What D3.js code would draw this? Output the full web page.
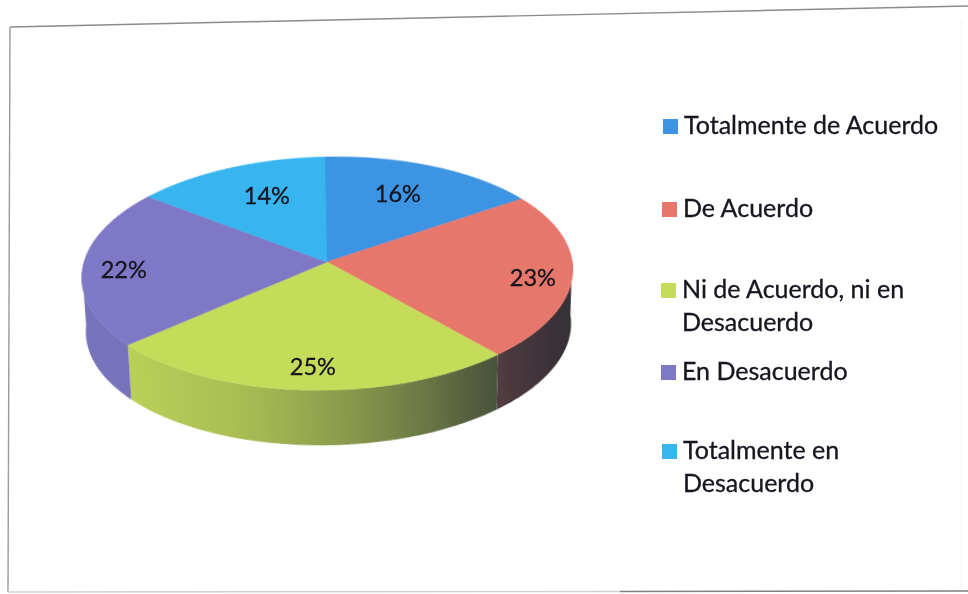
<!DOCTYPE html>
<html lang="es">
<head>
<meta charset="utf-8">
<script src="https://cdn.jsdelivr.net/npm/d3@7"></script>
<style>
html,body{margin:0;padding:0;background:#fff}
svg{display:block}
text{font-family:Lato,"Open Sans",sans-serif;fill:#14141e;stroke:#14141e;stroke-width:.3px}
</style>
</head>
<body>
<svg id="chart" width="968" height="594"></svg>
<script>
const categories = ["Totalmente de Acuerdo","De Acuerdo","Ni de Acuerdo, ni en Desacuerdo","En Desacuerdo","Totalmente en Desacuerdo"];
const values = [16,23,25,22,14];
const colors = ["#3c94e2","#e7776b","#c5dc5a","#7f78c6","#38b5ee"];
const legendLines = [["Totalmente de Acuerdo"],["De Acuerdo"],["Ni de Acuerdo, ni en","Desacuerdo"],["En Desacuerdo"],["Totalmente en","Desacuerdo"]];

// layout (not data)
const legendY = [134,217,298,380,459];
const legendX = [663,662,661,661,662];
const labelLayout = [{r:.70,dx:-5,dy:-3},{r:.84,dx:0,dy:1},{r:.83,dx:7,dy:-1},{r:.84,dx:2,dy:8},{r:.63,dx:0,dy:-6}];

const svg = d3.select("#chart");
const defs = svg.append("defs");
const soft = defs.append("filter").attr("id","soft").attr("x","-5%").attr("y","-5%").attr("width","110%").attr("height","110%");
soft.append("feGaussianBlur").attr("stdDeviation",0.5);

// scan frame
const frame = svg.append("g").attr("fill","none").attr("filter","url(#soft)");
frame.append("path").attr("d",d3.line()([[10,27],[968,6]])).attr("stroke","#8c8c8c").attr("stroke-width",1.4);
frame.append("path").attr("d",d3.line()([[10,27],[8,592]])).attr("stroke","#9a9a9a").attr("stroke-width",1.4);
frame.append("path").attr("d",d3.line()([[8,592],[620,591.5]])).attr("stroke","#d0d0d0").attr("stroke-width",1.4);
frame.append("path").attr("d",d3.line()([[620,591.5],[968,591]])).attr("stroke","#808080").attr("stroke-width",1.6);
frame.append("path").attr("d",d3.line()([[961,20],[961,590]])).attr("stroke","#f3f3f3").attr("stroke-width",1);

// perspective projection of a disc
const cx = 327, k = 0.0987;
const topDisc = {x0:cx, y0:262, A:244.3, B:115.4};
const botDisc = {x0:cx, y0:316, A:241.5, B:116.5};
function project(d,a){
  const X=Math.sin(a), Z=Math.cos(a), w=1+k*Z;
  return [d.x0+d.A*X/w, d.y0-d.B*Z/w];
}
const arcs = d3.pie().sort(null).startAngle(0).endAngle(2*Math.PI)(values);
const line = d3.line();
const samples = (a0,a1) => { const n=Math.max(2,Math.ceil((a1-a0)/0.01)); return d3.range(n+1).map(i=>a0+(a1-a0)*i/n); };

// wall shading by screen x
const shadeX = d3.scaleLinear().domain([85,130,260,400,500,570]).range([0.93,0.93,0.8,0.5,0.2,0.08]).clamp(true);
const shadeTarget = d3.rgb("#252a33");
const pieG = svg.append("g").attr("filter","url(#soft)").attr("transform",`rotate(-1.26 ${cx} 262)`);
const wallFrom = 92*Math.PI/180, wallTo = 268*Math.PI/180;
arcs.forEach((s,i)=>{
  const a0=Math.max(s.startAngle,wallFrom), a1=Math.min(s.endAngle,wallTo);
  if(a1<=a0) return;
  const base=d3.rgb(colors[i]);
  const id="wall"+i;
  const g=defs.append("linearGradient").attr("id",id).attr("gradientUnits","userSpaceOnUse").attr("x1",85).attr("x2",570).attr("y1",0).attr("y2",0);
  d3.range(0,1.001,0.1).forEach(t=>{
    const x=85+485*t, f=shadeX(x);
    g.append("stop").attr("offset",t).attr("stop-color",d3.interpolateRgb(shadeTarget,base)(f));
  });
  const as=samples(a0,a1);
  const pts=as.map(a=>project(topDisc,a)).concat(as.slice().reverse().map(a=>project(botDisc,a)));
  pieG.append("path").attr("d",line(pts)+"Z").attr("fill",`url(#${id})`);
});
// top surface
arcs.forEach((s,i)=>{
  const pts=[[topDisc.x0,topDisc.y0]].concat(samples(s.startAngle,s.endAngle).map(a=>project(topDisc,a)));
  pieG.append("path").attr("d",line(pts)+"Z").attr("fill",colors[i]).attr("stroke",colors[i]).attr("stroke-width",.6);
});

// labels
const labels = svg.append("g").attr("filter","url(#soft)");
arcs.forEach((s,i)=>{
  const a=(s.startAngle+s.endAngle)/2, L=labelLayout[i];
  const p=project({x0:topDisc.x0,y0:topDisc.y0,A:topDisc.A*L.r,B:topDisc.B*L.r},a);
  labels.append("text").attr("x",p[0]+L.dx).attr("y",p[1]+L.dy+8).attr("text-anchor","middle")
    .attr("font-size",23.5).text(values[i]+"%");
});

// legend
const legend = svg.append("g").attr("filter","url(#soft)");
categories.forEach((c,i)=>{
  const y=legendY[i], x=legendX[i];
  legend.append("rect").attr("x",x).attr("y",y-15).attr("width",15).attr("height",15).attr("fill",colors[i]);
  legendLines[i].forEach((t,j)=>{
    legend.append("text").attr("x",x+21).attr("y",y+j*33).attr("font-size",25).text(t);
  });
});
</script>
</body>
</html>
